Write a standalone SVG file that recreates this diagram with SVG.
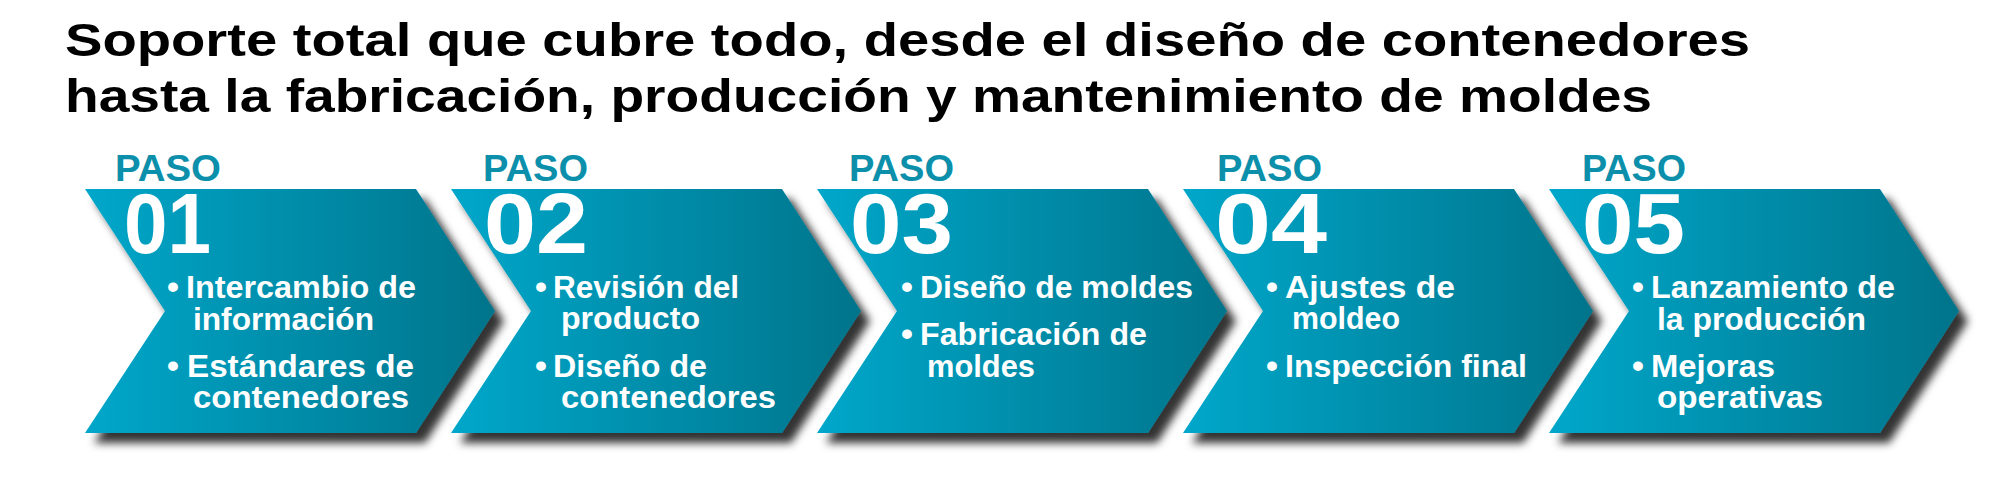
<svg xmlns="http://www.w3.org/2000/svg" width="2000" height="480" viewBox="0 0 2000 480">
<defs>
<linearGradient id="g" x1="0" y1="0" x2="1" y2="0">
<stop offset="0" stop-color="#00a7ca"/>
<stop offset="1" stop-color="#00748b"/>
</linearGradient>
<filter id="sh" x="-10%" y="-10%" width="130%" height="130%">
<feDropShadow dx="9" dy="10" stdDeviation="4.5" flood-color="#000" flood-opacity="0.8"/>
</filter>
<path id="chev" d="M0,189 L331,189 L410,311 L331,433 L0,433 L80,311 Z"/>
</defs>
<style>
.chev{fill:url(#g);filter:url(#sh)}
.title{font-family:"Liberation Sans",Arial,sans-serif;font-weight:bold;font-size:47px;fill:#000}
.paso{font-family:"Liberation Sans",Arial,sans-serif;font-weight:bold;font-size:36px;fill:#0b8fab}
.num{font-family:"Liberation Sans",Arial,sans-serif;font-weight:bold;font-size:86px;fill:#fff}
.t{font-family:"Liberation Sans",Arial,sans-serif;font-weight:bold;font-size:31px;fill:#fff}
.b{font-family:"Liberation Sans",Arial,sans-serif;font-weight:bold;font-size:34px;fill:#fff}
</style>
<g id="title">
<text class="title" x="65" y="56" textLength="1685" lengthAdjust="spacingAndGlyphs">Soporte total que cubre todo, desde el diseño de contenedores</text>
<text class="title" x="65" y="112" textLength="1587" lengthAdjust="spacingAndGlyphs">hasta la fabricación, producción y mantenimiento de moldes</text>
</g>
<g id="paso01">
<use href="#chev" class="chev" x="85"/>
<text class="paso" x="115" y="181" textLength="106" lengthAdjust="spacingAndGlyphs">PASO</text>
<text class="num" x="124" y="253" textLength="87" lengthAdjust="spacingAndGlyphs">01</text>
<text class="b" x="167" y="298">•</text>
<text class="t" x="186" y="298" textLength="230" lengthAdjust="spacingAndGlyphs">Intercambio de</text>
<text class="t" x="193" y="330" textLength="181" lengthAdjust="spacingAndGlyphs">información</text>
<text class="b" x="167" y="377">•</text>
<text class="t" x="187" y="377" textLength="227" lengthAdjust="spacingAndGlyphs">Estándares de</text>
<text class="t" x="193" y="408" textLength="216" lengthAdjust="spacingAndGlyphs">contenedores</text>
</g>
<g id="paso02">
<use href="#chev" class="chev" x="451"/>
<text class="paso" x="483" y="181" textLength="105" lengthAdjust="spacingAndGlyphs">PASO</text>
<text class="num" x="484" y="253" textLength="104" lengthAdjust="spacingAndGlyphs">02</text>
<text class="b" x="535" y="298">•</text>
<text class="t" x="553" y="298" textLength="186" lengthAdjust="spacingAndGlyphs">Revisión del</text>
<text class="t" x="561" y="329" textLength="139" lengthAdjust="spacingAndGlyphs">producto</text>
<text class="b" x="535" y="377">•</text>
<text class="t" x="553" y="377" textLength="154" lengthAdjust="spacingAndGlyphs">Diseño de</text>
<text class="t" x="561" y="408" textLength="215" lengthAdjust="spacingAndGlyphs">contenedores</text>
</g>
<g id="paso03">
<use href="#chev" class="chev" x="817"/>
<text class="paso" x="849" y="181" textLength="105" lengthAdjust="spacingAndGlyphs">PASO</text>
<text class="num" x="850" y="253" textLength="103" lengthAdjust="spacingAndGlyphs">03</text>
<text class="b" x="901" y="298">•</text>
<text class="t" x="920" y="298" textLength="273" lengthAdjust="spacingAndGlyphs">Diseño de moldes</text>
<text class="b" x="901" y="345">•</text>
<text class="t" x="920" y="345" textLength="227" lengthAdjust="spacingAndGlyphs">Fabricación de</text>
<text class="t" x="927" y="377" textLength="108" lengthAdjust="spacingAndGlyphs">moldes</text>
</g>
<g id="paso04">
<use href="#chev" class="chev" x="1183"/>
<text class="paso" x="1217" y="181" textLength="105" lengthAdjust="spacingAndGlyphs">PASO</text>
<text class="num" x="1215" y="253" textLength="112" lengthAdjust="spacingAndGlyphs">04</text>
<text class="b" x="1266" y="298">•</text>
<text class="t" x="1285" y="298" textLength="170" lengthAdjust="spacingAndGlyphs">Ajustes de</text>
<text class="t" x="1292" y="329" textLength="108" lengthAdjust="spacingAndGlyphs">moldeo</text>
<text class="b" x="1266" y="377">•</text>
<text class="t" x="1285" y="377" textLength="242" lengthAdjust="spacingAndGlyphs">Inspección final</text>
</g>
<g id="paso05">
<use href="#chev" class="chev" x="1549"/>
<text class="paso" x="1582" y="181" textLength="104" lengthAdjust="spacingAndGlyphs">PASO</text>
<text class="num" x="1582" y="253" textLength="103" lengthAdjust="spacingAndGlyphs">05</text>
<text class="b" x="1632" y="298">•</text>
<text class="t" x="1651" y="298" textLength="244" lengthAdjust="spacingAndGlyphs">Lanzamiento de</text>
<text class="t" x="1657" y="330" textLength="209" lengthAdjust="spacingAndGlyphs">la producción</text>
<text class="b" x="1632" y="377">•</text>
<text class="t" x="1651" y="377" textLength="124" lengthAdjust="spacingAndGlyphs">Mejoras</text>
<text class="t" x="1657" y="408" textLength="166" lengthAdjust="spacingAndGlyphs">operativas</text>
</g>
</svg>
